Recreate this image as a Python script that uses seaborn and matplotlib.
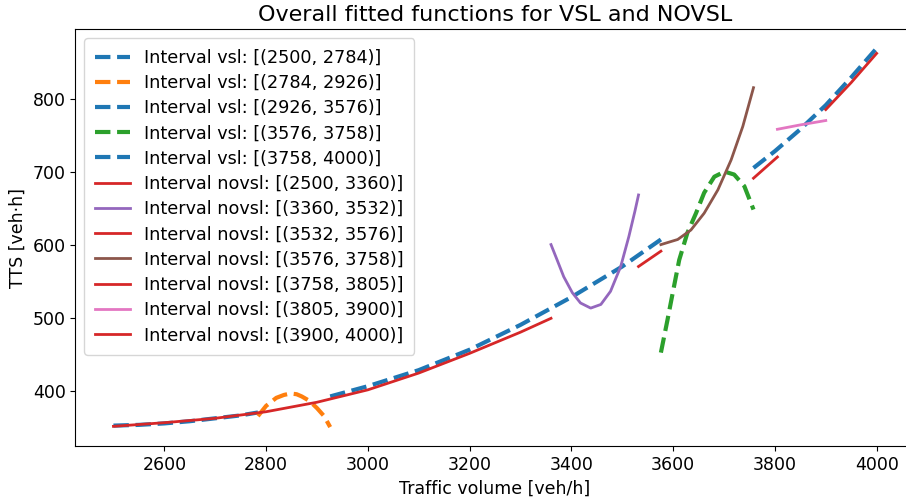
import numpy as np
import matplotlib
matplotlib.use("Agg")
import matplotlib.pyplot as plt
import seaborn as sns

# Values (traffic volume, TTS)
VSL_LABELS = ['(2500, 2784)', '(2784, 2926)', '(2926, 3576)', '(3576, 3758)', '(3758, 4000)']
VSL_X = [
    [2500, 2550, 2600, 2650, 2700, 2750, 2784],
    [2784, 2800, 2820, 2835, 2848, 2860, 2870, 2885, 2900, 2914, 2926],
    [2926, 3000, 3100, 3200, 3300, 3400, 3500, 3576],
    [3576, 3589, 3599, 3612, 3628, 3645, 3661, 3681, 3701, 3720, 3740, 3758],
    [3758, 3800, 3850, 3900, 3950, 4000],
]
VSL_Y = [
    [352, 353, 355, 358, 362, 366, 370],
    [365, 379, 390, 394, 396, 395, 392, 386, 376, 365, 350],
    [392, 406, 428, 456, 490, 528, 570, 607],
    [452, 497, 533, 579, 616, 643, 671, 693, 700, 696, 680, 648],
    [705, 728, 758, 791, 829, 869],
]

NOVSL_LABELS = ['(2500, 3360)', '(3360, 3532)', '(3532, 3576)', '(3576, 3758)',
                '(3758, 3805)', '(3805, 3900)', '(3900, 4000)']
NOVSL_X = [
    [2500, 2600, 2700, 2800, 2900, 3000, 3100, 3200, 3300, 3360],
    [3360, 3372, 3385, 3402, 3418, 3438, 3458, 3477, 3497, 3513, 3525, 3532],
    [3532, 3576],
    [3576, 3609, 3635, 3661, 3688, 3714, 3737, 3758],
    [3758, 3805],
    [3805, 3850, 3900],
    [3900, 3950, 4000],
]
NOVSL_Y = [
    [351, 356, 362, 371, 384, 401, 424, 451, 480, 499],
    [600, 579, 556, 534, 520, 513, 518, 536, 570, 611, 646, 668],
    [570, 591],
    [600, 607, 620, 643, 675, 716, 762, 815],
    [691, 720],
    [758, 764, 770],
    [785, 822, 862],
]

pal = sns.color_palette("tab10")
vsl_colors = [pal[0], pal[1], pal[0], pal[2], pal[0]]
novsl_colors = [pal[3], pal[4], pal[3], pal[5], pal[3], pal[6], pal[3]]

plt.rcParams['font.family'] = ['DejaVu Sans']
plt.rcParams['font.size'] = 12.5

fig = plt.figure(figsize=(9.06, 4.97), dpi=100)
ax = fig.add_axes([0.0831, 0.1026, 0.9266, 0.8384])

for xs, ys, lab, c in zip(VSL_X, VSL_Y, VSL_LABELS, vsl_colors):
    sns.lineplot(x=xs, y=ys, ax=ax, color=c, linestyle='--', linewidth=3,
                 label=f'Interval vsl: [{lab}]')

for xs, ys, lab, c in zip(NOVSL_X, NOVSL_Y, NOVSL_LABELS, novsl_colors):
    sns.lineplot(x=xs, y=ys, ax=ax, color=c, linestyle='-', linewidth=2,
                 label=f'Interval novsl: [{lab}]')

ax.set_xlabel('Traffic volume [veh/h]')
ax.set_ylabel('TTS [veh·h]')
ax.set_title('Overall fitted functions for VSL and NOVSL', fontsize=16)
ax.legend(loc='upper left', fontsize=12.7, labelspacing=0.41, borderpad=0.6)

fig.savefig('out.png', dpi=100)
